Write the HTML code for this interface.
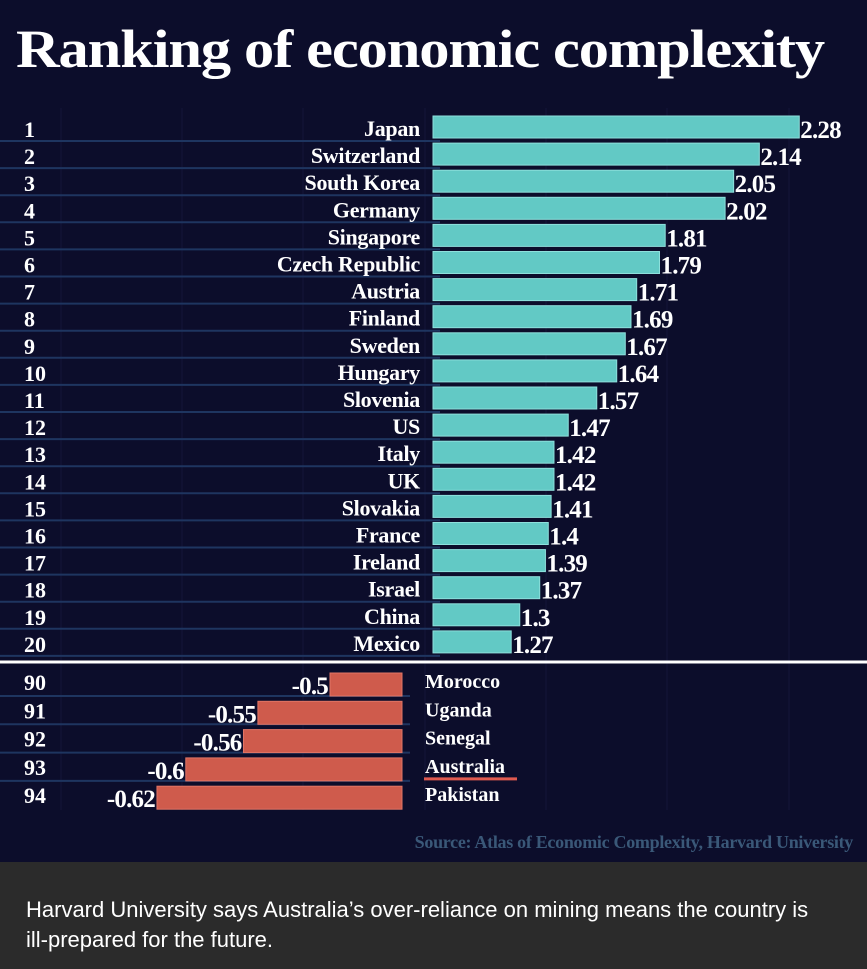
<!DOCTYPE html>
<html><head><meta charset="utf-8"><style>
html,body{margin:0;padding:0;width:867px;height:969px;overflow:hidden;background:#0c0d2b;}
#wrap{position:relative;width:867px;height:862px;background:#0c0d2b;}
#title{position:absolute;left:16px;top:18px;font:bold 54px "Liberation Serif",serif;color:#fff;letter-spacing:-1px;white-space:nowrap;transform:scaleX(1.12);transform-origin:left top;}
#src{position:absolute;right:14px;top:832px;font:bold 18px "Liberation Serif",serif;color:#3a5878;letter-spacing:-0.3px;}
#foot{position:absolute;left:0;top:862px;width:867px;height:107px;background:#2b2b2b;}
#foot p{margin:0;position:absolute;left:26px;top:33px;width:840px;font:22px "Liberation Sans",sans-serif;color:#fff;line-height:30px;}
svg text{font-family:"Liberation Serif",serif;font-weight:bold;fill:#fff;}
</style></head><body>
<div id="wrap">
<div id="title">Ranking of economic complexity</div>
<svg id="chart" width="867" height="830" style="position:absolute;left:0;top:0"></svg>
<div id="src">Source: Atlas of Economic Complexity, Harvard University</div>
</div>
<div id="foot"><p>Harvard University says Australia’s over-reliance on mining means the country is<br>ill-prepared for the future.</p></div>
<script>
const topRanks=[1,2,3,4,5,6,7,8,9,10,11,12,13,14,15,16,17,18,19,20];
const topCountries=["Japan","Switzerland","South Korea","Germany","Singapore","Czech Republic","Austria","Finland","Sweden","Hungary","Slovenia","US","Italy","UK","Slovakia","France","Ireland","Israel","China","Mexico"];
const topValues=[2.28,2.14,2.05,2.02,1.81,1.79,1.71,1.69,1.67,1.64,1.57,1.47,1.42,1.42,1.41,1.4,1.39,1.37,1.3,1.27];
const topLabels=["2.28","2.14","2.05","2.02","1.81","1.79","1.71","1.69","1.67","1.64","1.57","1.47","1.42","1.42","1.41","1.4","1.39","1.37","1.3","1.27"];
const botRanks=[90,91,92,93,94];
const botCountries=["Morocco","Uganda","Senegal","Australia","Pakistan"];
const botValues=[-0.5,-0.55,-0.56,-0.6,-0.62];
const botLabels=["-0.5","-0.55","-0.56","-0.6","-0.62"];
const NS="http://www.w3.org/2000/svg";
const svg=document.getElementById('chart');
function mk(t,a){const e=document.createElementNS(NS,t);for(const k in a)e.setAttribute(k,a[k]);svg.appendChild(e);return e;}
const xTop=v=>149+(v)*285.2;
const xBot=v=>330+(v+0.5)*1442;
const yTop=i=>116+i*27.1;
const yBot=i=>670+i*28.3;
[61,182,303,425,546,667,789].forEach(x=>{const g=mk('line',{x1:x,x2:x,y1:108,y2:810,stroke:'#13153a','stroke-width':1});
});
topValues.forEach((v,i)=>{
 const y=yTop(i);
 const sep=mk('line',{x1:0,x2:440,y1:y+25,y2:y+25,stroke:'#1e3560','stroke-width':2});
 
 const r=mk('rect',{x:433,y:y,width:Math.max(0,xTop(v)-433),height:22,fill:'#62c9c5',stroke:'#8ee0dc','stroke-width':1});
 
 const rk=mk('text',{x:24,y:y+21,'font-size':22});rk.textContent=topRanks[i];
 
 const c=mk('text',{x:420,y:y+20,'font-size':22,'text-anchor':'end','letter-spacing':'-0.3'});c.textContent=topCountries[i];
 
 const vl=mk('text',{x:xTop(v)+1,y:y+22,'font-size':25,'letter-spacing':'-0.8'});vl.textContent=topLabels[i];
 
});
const div=mk('line',{x1:0,x2:867,y1:662,y2:662,stroke:'#fff','stroke-width':3});

botValues.forEach((v,i)=>{
 const y=yBot(i);
 if(i<4){const sep=mk('line',{x1:0,x2:410,y1:y+26,y2:y+26,stroke:'#1e3560','stroke-width':2});
 }
 const x=xBot(v);
 const r=mk('rect',{x:x,y:y+3,width:402-x,height:23,fill:'#cf5b4c',stroke:'#e07566','stroke-width':1});
 
 const rk=mk('text',{x:24,y:y+20,'font-size':22});rk.textContent=botRanks[i];
 
 const c=mk('text',{x:425,y:y+18,'font-size':20});c.textContent=botCountries[i];
 
 const vl=mk('text',{x:x-2,y:y+24,'font-size':25,'text-anchor':'end','letter-spacing':'-0.8'});vl.textContent=botLabels[i];
 
 if(botCountries[i]==="Australia"){const u=mk('line',{x1:424,x2:517,y1:y+24,y2:y+24,stroke:'#e05a50','stroke-width':3});
 }
});
</script>
</body></html>
